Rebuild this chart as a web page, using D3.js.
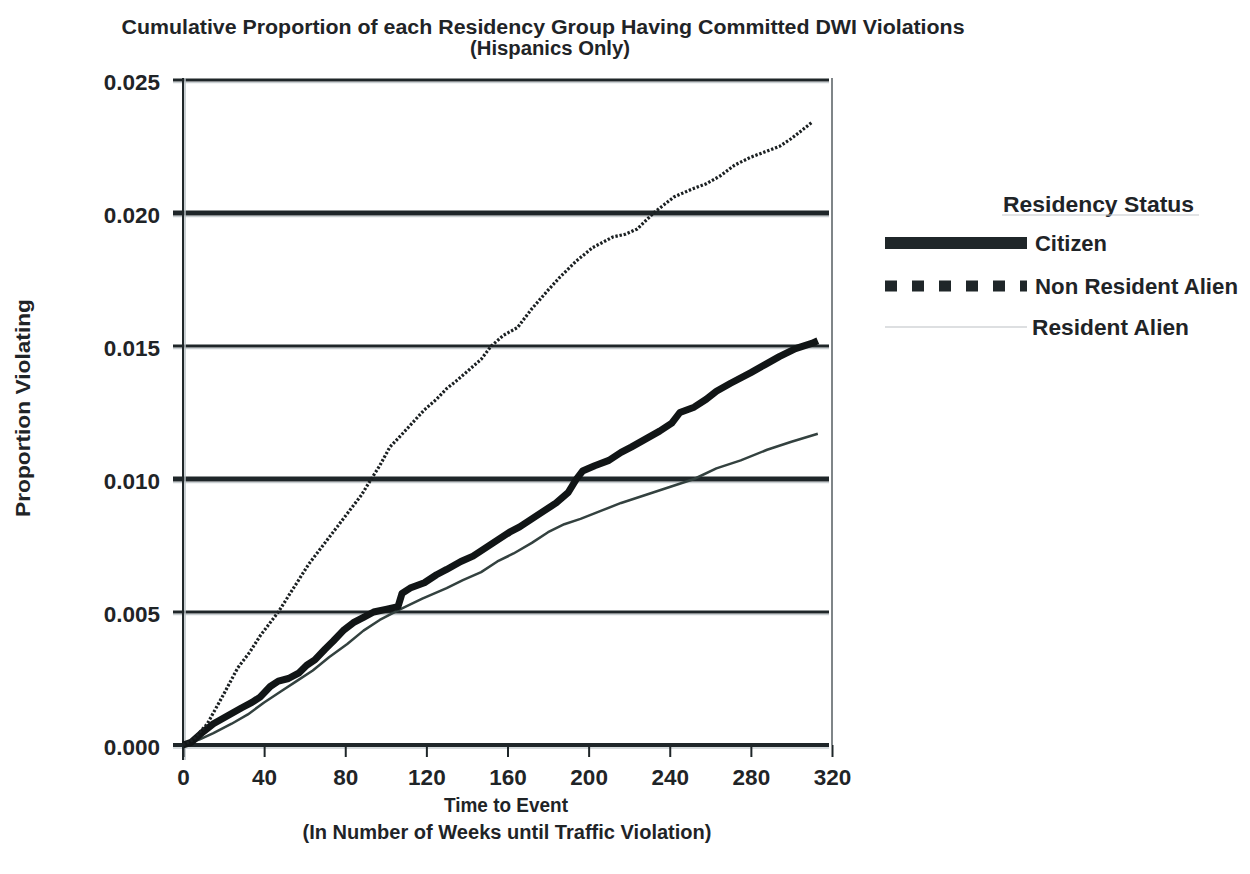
<!DOCTYPE html>
<html>
<head>
<meta charset="utf-8">
<script src="https://cdn.jsdelivr.net/npm/d3@7"></script>
<style>
  html, body { margin: 0; padding: 0; background: #fff; }
  svg text { font-family: "Liberation Sans", Arial, sans-serif; font-weight: bold; fill: #1f2427; }
</style>
</head>
<body>
<svg id="chart" width="1250" height="874"></svg>
<script>
// Cumulative proportion violating, [week, proportion]
const citizen = [[0,0],[4,0.0001],[10,0.0005],[15,0.0008],[22,0.0011],[29,0.0014],[34,0.0016],[38,0.0018],[43,0.0022],[47,0.0024],[52,0.0025],[57,0.0027],[61,0.0030],[65,0.0032],[70,0.0036],[74,0.0039],[79,0.0043],[84,0.0046],[89,0.0048],[94,0.0050],[100,0.0051],[106,0.0052],[108,0.0057],[112,0.0059],[119,0.0061],[125,0.0064],[130,0.0066],[137,0.0069],[143,0.0071],[149,0.0074],[155,0.0077],[161,0.0080],[166,0.0082],[172,0.0085],[178,0.0088],[184,0.0091],[190,0.0095],[194,0.0100],[197,0.0103],[203,0.0105],[210,0.0107],[216,0.0110],[221,0.0112],[228,0.0115],[235,0.0118],[241,0.0121],[245,0.0125],[252,0.0127],[258,0.0130],[263,0.0133],[270,0.0136],[280,0.0140],[287,0.0143],[294,0.0146],[302,0.0149],[310,0.0151],[313,0.0152]];

const nonResidentAlien = [[0,0],[5,0.0002],[12,0.0008],[20,0.0019],[27,0.0029],[33,0.0035],[38,0.0041],[43,0.0046],[47,0.0050],[52,0.0056],[57,0.0062],[62,0.0068],[67,0.0073],[72,0.0078],[76,0.0082],[80,0.0086],[84,0.0090],[88,0.0094],[92,0.0099],[97,0.0105],[102,0.0112],[107,0.0116],[113,0.0121],[119,0.0126],[125,0.0130],[130,0.0134],[135,0.0137],[141,0.0141],[147,0.0145],[152,0.0150],[158,0.0154],[165,0.0157],[172,0.0164],[180,0.0171],[186,0.0176],[194,0.0182],[202,0.0187],[212,0.0191],[218,0.0192],[224,0.0194],[232,0.0200],[237,0.0203],[242,0.0206],[251,0.0209],[258,0.0211],[265,0.0214],[272,0.0218],[280,0.0221],[287,0.0223],[294,0.0225],[300,0.0228],[305,0.0231],[310,0.0234]];

const residentAlien = [[0,0],[8,0.0002],[15,0.00045],[24,0.0008],[32,0.00115],[40,0.0016],[48,0.0020],[56,0.0024],[64,0.0028],[72,0.0033],[81,0.0038],[89,0.0043],[97,0.0047],[107,0.0051],[118,0.0055],[130,0.0059],[138,0.0062],[147,0.0065],[155,0.0069],[163,0.0072],[172,0.0076],[180,0.0080],[188,0.0083],[196,0.0085],[206,0.0088],[216,0.0091],[228,0.0094],[240,0.0097],[252,0.0100],[263,0.0104],[275,0.0107],[288,0.0111],[300,0.0114],[313,0.0117]];

const xTicks = [0, 40, 80, 120, 160, 200, 240, 280, 320];
const yTicks = [0, 0.005, 0.010, 0.015, 0.020, 0.025];
const legendLabels = ["Citizen", "Non Resident Alien", "Resident Alien"];

const svg = d3.select("#chart");
const dark = "#1f2629";
const fontFamily = "'Liberation Sans', Arial, sans-serif";

const x = d3.scaleLinear().domain([0, 320]).range([183, 832]);
const y = d3.scaleLinear().domain([0, 0.025]).range([745, 80]);

// Title
svg.append("text").attr("x", 543).attr("y", 34).attr("text-anchor", "middle")
  .attr("font-size", 19.5).attr("textLength", 843).attr("lengthAdjust", "spacingAndGlyphs")
  .text("Cumulative Proportion of each Residency Group Having Committed DWI Violations");
svg.append("text").attr("x", 550).attr("y", 55).attr("text-anchor", "middle")
  .attr("font-size", 19.5).attr("textLength", 160).attr("lengthAdjust", "spacingAndGlyphs")
  .text("(Hispanics Only)");

// Horizontal grid lines with a faint shadow beneath
const gridWidth = v => (v === 0.01 || v === 0.02) ? 5 : (v === 0 ? 4 : 3);
const grid = svg.append("g");
yTicks.forEach(v => {
  const w = gridWidth(v);
  grid.append("line").attr("x1", 173).attr("x2", 829)
    .attr("y1", y(v) + w / 2 + 1).attr("y2", y(v) + w / 2 + 1)
    .attr("stroke", "#c9cfd2").attr("stroke-width", 1.5);
  grid.append("line").attr("x1", 173).attr("x2", 829)
    .attr("y1", y(v)).attr("y2", y(v))
    .attr("stroke", dark).attr("stroke-width", w);
});

// Left axis line and right border
svg.append("line").attr("x1", 185).attr("x2", 185).attr("y1", 78).attr("y2", 760)
  .attr("stroke", "#b9c0c4").attr("stroke-width", 1.5);
svg.append("line").attr("x1", 183).attr("x2", 183).attr("y1", 78).attr("y2", 760)
  .attr("stroke", dark).attr("stroke-width", 2);
svg.append("line").attr("x1", 832).attr("x2", 832).attr("y1", 78).attr("y2", 745)
  .attr("stroke", "#555c60").attr("stroke-width", 1.5);

// X axis ticks and labels
const xAxis = d3.axisBottom(x).tickValues(xTicks).tickSize(12).tickFormat(d3.format("d"));
const gx = svg.append("g").attr("transform", `translate(0,${y(0)})`).call(xAxis);
gx.select(".domain").remove();
gx.selectAll(".tick line").attr("stroke", dark).attr("stroke-width", 2);
gx.selectAll(".tick text").attr("font-size", 22.5).attr("y", 17).attr("dy", "1.0em").attr("fill", dark)
  .style("font-family", fontFamily).style("font-weight", "bold");

// Y axis labels
const yAxis = d3.axisLeft(y).tickValues(yTicks).tickSize(0).tickFormat(d3.format(".3f"));
const gy = svg.append("g").attr("transform", "translate(160,0)").call(yAxis);
gy.select(".domain").remove();
gy.selectAll(".tick text").attr("font-size", 22.5).attr("x", 0).attr("dy", "0.4em").attr("fill", dark)
  .style("font-family", fontFamily).style("font-weight", "bold");

// Axis titles
svg.append("text").attr("x", 506).attr("y", 812).attr("text-anchor", "middle")
  .attr("font-size", 20).attr("textLength", 124).attr("lengthAdjust", "spacingAndGlyphs")
  .text("Time to Event");
svg.append("text").attr("x", 507).attr("y", 839).attr("text-anchor", "middle")
  .attr("font-size", 20).attr("textLength", 409).attr("lengthAdjust", "spacingAndGlyphs")
  .text("(In Number of Weeks until Traffic Violation)");
svg.append("text").attr("transform", "translate(30,408) rotate(-90)").attr("text-anchor", "middle")
  .attr("font-size", 21).attr("textLength", 218).attr("lengthAdjust", "spacingAndGlyphs")
  .text("Proportion Violating");

// Series lines
const line = d3.line().x(d => x(d[0])).y(d => y(d[1])).curve(d3.curveLinear);
const lines = svg.append("g").attr("fill", "none").attr("stroke-linejoin", "round");
lines.append("path").datum(residentAlien).attr("d", line)
  .attr("stroke", "#33413f").attr("stroke-width", 2.5);
lines.append("path").datum(citizen).attr("d", line)
  .attr("stroke", "#111516").attr("stroke-width", 7);
lines.append("path").datum(nonResidentAlien).attr("d", line)
  .attr("stroke", "#1b2022").attr("stroke-width", 3.2).attr("stroke-dasharray", "2.4,1.8");

// Legend
const lg = svg.append("g");
lg.append("text").attr("x", 1003).attr("y", 212).attr("font-size", 21.5)
  .attr("textLength", 191).attr("lengthAdjust", "spacingAndGlyphs").text("Residency Status");
lg.append("line").attr("x1", 1002).attr("x2", 1199).attr("y1", 215).attr("y2", 215)
  .attr("stroke", "#c4c8cb").attr("stroke-width", 1.2);
const legendRows = [
  { label: legendLabels[0], y: 243, stroke: "#1f2629", width: 12, dash: null, tx: 1035, len: 72 },
  { label: legendLabels[1], y: 286, stroke: "#1f2629", width: 11, dash: "12,15", tx: 1035, len: 203 },
  { label: legendLabels[2], y: 327, stroke: "#bcc0c3", width: 1.2, dash: null, tx: 1032, len: 157 }
];
legendRows.forEach(r => {
  lg.append("line").attr("x1", 885).attr("x2", 1027).attr("y1", r.y).attr("y2", r.y)
    .attr("stroke", r.stroke).attr("stroke-width", r.width)
    .attr("stroke-dasharray", r.dash);
  lg.append("text").attr("x", r.tx).attr("y", r.y + 8)
    .attr("font-size", 21.5).attr("textLength", r.len).attr("lengthAdjust", "spacingAndGlyphs")
    .text(r.label);
});
</script>
</body>
</html>
